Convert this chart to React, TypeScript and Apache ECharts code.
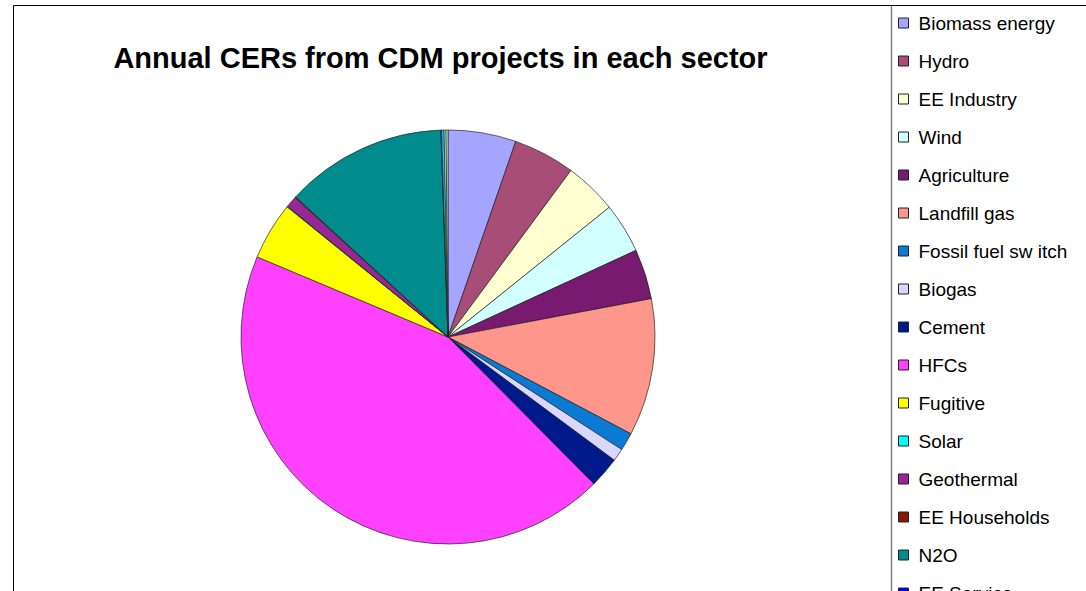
import React, { useEffect, useRef } from "react";
import * as echarts from "echarts";

const titleText = "Annual CERs from CDM projects in each sector";

const sectors = [
  "Biomass energy",
  "Hydro",
  "EE Industry",
  "Wind",
  "Agriculture",
  "Landfill gas",
  "Fossil fuel sw itch",
  "Biogas",
  "Cement",
  "HFCs",
  "Fugitive",
  "Solar",
  "Geothermal",
  "EE Households",
  "N2O",
  "EE Service",
  "EE Supply side",
  "Transport",
  "Afforestation",
];

const shares = [
  5.3, 4.8, 4.1, 3.9, 3.9, 10.7, 1.4, 1.0, 2.4, 43.7, 4.5, 0.05, 0.9, 0.05,
  12.6, 0.05, 0.2, 0.15, 0.15,
];

const colors = [
  "#A5A5FF",
  "#A84C78",
  "#FFFFD2",
  "#D2FFFF",
  "#781A70",
  "#FF968C",
  "#0A7AD2",
  "#D7D7FF",
  "#001A8C",
  "#FF40FF",
  "#FFFF00",
  "#00FFFF",
  "#962896",
  "#8C1400",
  "#008C8C",
  "#0000FF",
  "#00CCFF",
  "#CCFFFF",
  "#CCFFCC",
];

export default function App() {
  const ref = useRef<HTMLDivElement>(null);
  useEffect(() => {
    if (!ref.current) return;
    const chart = echarts.init(ref.current, null, { renderer: "svg" });
    const font = "'Liberation Sans', Arial, sans-serif";
    chart.setOption({
      animation: false,
      backgroundColor: "#ffffff",
      color: colors,
      title: {
        text: titleText,
        left: 435.5,
        textAlign: "center",
        top: 38,
        textStyle: {
          fontFamily: font,
          fontWeight: "bold",
          fontSize: 29,
          color: "#000",
        },
      },
      legend: {
        orient: "vertical",
        left: 898,
        top: 13,
        height: 1000,
        padding: 0,
        itemWidth: 10,
        itemHeight: 10,
        itemGap: 18,
        icon: "rect",
        itemStyle: { borderColor: "#222", borderWidth: 1 },
        textStyle: {
          fontFamily: font,
          fontSize: 19,
          lineHeight: 20,
          color: "#000",
          padding: [0, 0, 0, 5],
        },
        data: sectors,
      },
      graphic: [
        {
          type: "rect",
          shape: { x: 13.5, y: 5.5, width: 2000, height: 2000 },
          style: { fill: "none", stroke: "#000", lineWidth: 1 },
          z: 100,
        },
        {
          type: "line",
          shape: { x1: 891.5, y1: 5.5, x2: 891.5, y2: 600 },
          style: { stroke: "#808080", lineWidth: 1.5 },
          z: 100,
        },
      ],
      series: [
        {
          type: "pie",
          center: [448, 337],
          radius: 207,
          startAngle: 90,
          clockwise: true,
          minAngle: 0,
          label: { show: false },
          labelLine: { show: false },
          emphasis: { disabled: true },
          itemStyle: { borderColor: "#222", borderWidth: 0.7 },
          data: sectors.map((name, i) => ({ name, value: shares[i] })),
        },
      ],
    });
    return () => chart.dispose();
  }, []);
  return (
    <div
      ref={ref}
      style={{ position: "fixed", left: 0, top: 0, width: 1086, height: 591 }}
    />
  );
}
